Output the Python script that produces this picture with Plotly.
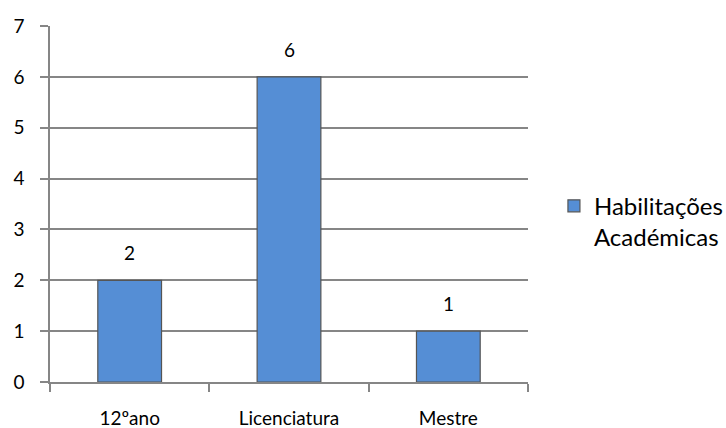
import plotly.graph_objects as go

categories = ["12ºano", "Licenciatura", "Mestre"]
values = [2, 6, 1]
series_name = "Habilitações<br>Académicas"
y_ticks = [0, 1, 2, 3, 4, 5, 6, 7]

FONT = "Lato, 'Open Sans', sans-serif"
GRID = "#868686"
TICK_SIZE = 19

fig = go.Figure()
fig.add_trace(go.Bar(
    x=categories, y=values, name=series_name,
    marker=dict(color="#558ED5", line=dict(color="#555555", width=1.2)),
    width=0.4, showlegend=True,
))

for c, v in zip(categories, values):
    fig.add_annotation(x=c, y=v, text=str(v), showarrow=False,
                       yanchor="bottom", yshift=14,
                       font=dict(family=FONT, size=TICK_SIZE, color="#000000"))

fig.update_layout(
    width=726, height=428, autosize=False,
    margin=dict(l=50, r=198, t=25.5, b=45.5),
    paper_bgcolor="white", plot_bgcolor="white",
    font=dict(family=FONT, size=TICK_SIZE, color="#000000"),
    bargap=0.6,
    legend=dict(x=0.763, y=0.482, xref="container", yref="container",
                xanchor="left", yanchor="middle", valign="top",
                font=dict(family=FONT, size=24, color="#000000"),
                itemwidth=30, bgcolor="rgba(0,0,0,0)"),
    xaxis=dict(showline=True, linecolor=GRID, linewidth=1.5,
               ticks="outside", ticklen=8, tickcolor=GRID, tickwidth=1.5,
               tickson="boundaries", showgrid=False, mirror=False,
               ticklabelstandoff=18, automargin=False),
    yaxis=dict(range=[0, 7], tickvals=y_ticks, showline=True,
               linecolor=GRID, linewidth=1.5, ticks="outside", ticklen=8,
               tickcolor=GRID, tickwidth=1.5, showgrid=True, gridcolor=GRID,
               gridwidth=1.5, zeroline=False, ticklabelstandoff=12,
               automargin=False),
)

fig.write_html("out.html",
               config=dict(displayModeBar=False, responsive=False),
               post_script="document.body.style.margin='0';document.body.style.overflow='hidden';")
